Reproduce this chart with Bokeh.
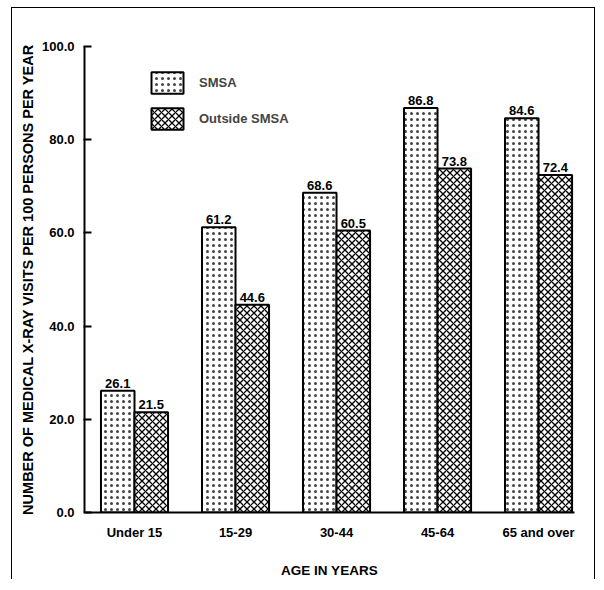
from bokeh.plotting import figure
from bokeh.models import (Range1d, FixedTicker, ColumnDataSource, Legend, LegendItem,
                          NumeralTickFormatter)
from bokeh.core.properties import value
from bokeh.embed import file_html
from bokeh.resources import INLINE

categories = ["Under 15", "15-29", "30-44", "45-64", "65 and over"]
smsa = [26.1, 61.2, 68.6, 86.8, 84.6]
outside_smsa = [21.5, 44.6, 60.5, 73.8, 72.4]
y_ticks = [0, 20, 40, 60, 80, 100]

idx = list(range(len(categories)))
BW = 0.332
src = ColumnDataSource(dict(
    x1=[i - BW / 2 for i in idx],
    x2=[i + BW / 2 for i in idx],
    smsa=smsa,
    out=outside_smsa,
    smsa_t=["%.1f" % v for v in smsa],
    out_t=["%.1f" % v for v in outside_smsa],
))

FONT = "Liberation Sans"

p = figure(width=584, height=572, output_backend="svg", toolbar_location=None,
           x_range=Range1d(-0.495, 4.356), y_range=Range1d(0, 100),
           min_border_left=72, min_border_right=22, min_border_top=38,
           min_border_bottom=66)
p.outline_line_color = None
p.xgrid.visible = False
p.ygrid.visible = False
p.background_fill_color = "white"
p.border_fill_color = "white"
p.styles = {"border-top": "1.5px solid black", "border-left": "1.5px solid black",
            "border-right": "1.5px solid black", "margin-left": "11px",
            "margin-top": "7px"}

r1 = p.vbar(x="x1", top="smsa", width=BW, source=src, fill_color="white",
            line_color="black", line_width=2, hatch_pattern="dot",
            hatch_color="#444444", hatch_scale=6, hatch_weight=1.1)
r2 = p.vbar(x="x2", top="out", width=BW, source=src, fill_color="white",
            line_color="black", line_width=2, hatch_pattern="diagonal_cross",
            hatch_color="black", hatch_scale=7, hatch_weight=1.3)

for xc, yc, tc in (("x1", "smsa", "smsa_t"), ("x2", "out", "out_t")):
    p.text(x=xc, y=yc, text=tc, source=src, text_align="center",
           text_baseline="bottom", y_offset=-3, text_font=value(FONT),
           text_font_style="bold", text_font_size="13px", text_color="black")

# y axis
p.yaxis.ticker = FixedTicker(ticks=y_ticks)
p.yaxis.formatter = NumeralTickFormatter(format="0.0")
p.yaxis.major_tick_in = 7
p.yaxis.major_tick_out = 1
p.yaxis.minor_tick_line_color = None
p.yaxis.major_label_standoff = 9
p.yaxis.axis_line_width = 2
p.yaxis.major_tick_line_width = 2
p.yaxis.axis_label = "NUMBER OF MEDICAL X-RAY VISITS PER 100 PERSONS PER YEAR"
p.yaxis.axis_label_standoff = 3

# x axis
p.xaxis.ticker = FixedTicker(ticks=idx)
p.xaxis.major_label_overrides = {i: c for i, c in zip(idx, categories)}
p.xaxis.major_tick_line_color = None
p.xaxis.minor_tick_line_color = None
p.xaxis.major_tick_in = 0
p.xaxis.major_tick_out = 0
p.xaxis.major_label_standoff = 12
p.xaxis.axis_line_width = 2
p.xaxis.axis_label = "AGE IN YEARS"
p.xaxis.axis_label_standoff = 20

for ax in (p.xaxis[0], p.yaxis[0]):
    ax.major_label_text_font = FONT
    ax.major_label_text_font_style = "bold"
    ax.major_label_text_font_size = "13px"
    ax.major_label_text_color = "black"
    ax.axis_label_text_font = FONT
    ax.axis_label_text_font_style = "bold"
    ax.axis_label_text_color = "black"
    ax.axis_line_color = "black"
p.yaxis[0].axis_label_text_font_size = "14.5px"
p.xaxis[0].axis_label_text_font_size = "13.5px"

legend = Legend(items=[LegendItem(label="SMSA", renderers=[r1]),
                       LegendItem(label="Outside SMSA", renderers=[r2])],
                location=(63, 380), glyph_width=40, glyph_height=27, spacing=9,
                padding=0, margin=0, label_standoff=12,
                label_text_font=FONT, label_text_font_style="bold",
                label_text_font_size="13px", border_line_color=None,
                background_fill_alpha=0)
p.add_layout(legend)

open("out.html", "w").write(file_html(p, INLINE))
